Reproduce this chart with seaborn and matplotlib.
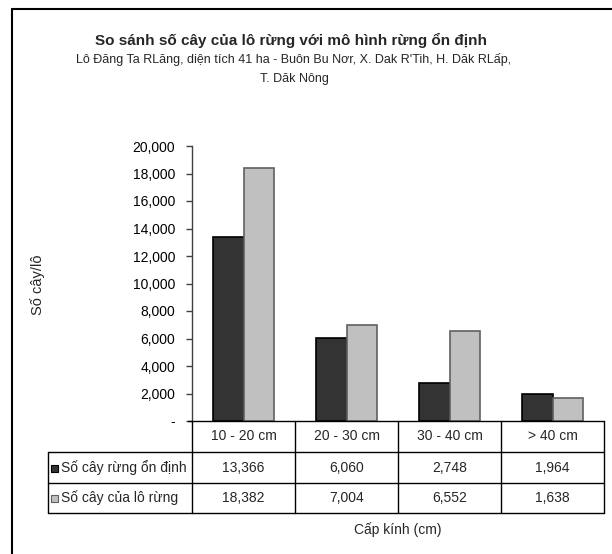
import matplotlib
matplotlib.use("Agg")
import matplotlib.pyplot as plt
import seaborn as sns
import pandas as pd
from matplotlib.lines import Line2D
from matplotlib.patches import Rectangle
from matplotlib.ticker import FuncFormatter

categories = ["10 - 20 cm", "20 - 30 cm", "30 - 40 cm", "> 40 cm"]
series_names = ["Số cây rừng ổn định", "Số cây của lô rừng"]
stable_values = [13366, 6060, 2748, 1964]
plot_values = [18382, 7004, 6552, 1638]
y_ticks = [0, 2000, 4000, 6000, 8000, 10000, 12000, 14000, 16000, 18000, 20000]

title = "So sánh số cây của lô rừng với mô hình rừng ổn định"
subtitle1 = "Lô Đăng Ta RLăng, diện tích 41 ha - Buôn Bu Nơr, X. Dak R'Tih, H. Dăk RLấp,"
subtitle2 = "T. Dăk Nông"
y_label = "Số cây/lô"
x_label = "Cấp kính (cm)"

colors = ["#333333", "#c0c0c0"]
edges = ["#000000", "#606060"]

sns.set_theme(style="white")
plt.rcParams["font.family"] = ["Liberation Sans", "DejaVu Sans"]

W, H = 612, 554
fig = plt.figure(figsize=(W / 100, H / 100), dpi=100)

def fx(x):
    return x / W

def fy(y):
    return 1 - y / H

left, right, top, bottom = 192, 604, 146, 421
ax = fig.add_axes([fx(left), fy(bottom), fx(right - left), (bottom - top) / H])

df = pd.DataFrame({
    "cat": categories * 2,
    "series": [series_names[0]] * 4 + [series_names[1]] * 4,
    "value": stable_values + plot_values,
})
sns.barplot(data=df, x="cat", y="value", hue="series", order=categories,
            hue_order=series_names, palette=colors, width=0.585, gap=0,
            edgecolor="black", linewidth=1.0, ax=ax, legend=False)
for i, cont in enumerate(ax.containers):
    for p in cont:
        p.set_edgecolor(edges[i])
        p.set_linewidth(1.2)

ax.set_xlim(-0.5, len(categories) - 0.5)
ax.set_ylim(0, 20000)
ax.set_yticks(y_ticks)
ax.yaxis.set_major_formatter(FuncFormatter(lambda v, p: "-" if v == 0 else f"{int(v):,}"))
ax.tick_params(axis="y", which="major", left=True, length=4, width=1, color="#404040",
               labelsize=10, pad=8, labelcolor="black")
ax.set_xticks([])
ax.set_xlabel("")
ax.set_ylabel("")
for s in ["top", "right", "bottom"]:
    ax.spines[s].set_visible(False)
ax.spines["left"].set_color("#404040")
ax.spines["left"].set_linewidth(1)
ax.patch.set_alpha(0)

# table
lw = 1.0
col_x = [left + (right - left) * i / len(categories) for i in range(len(categories) + 1)]
row_y = [421, 452, 483, 513]
tab_left = 48

def hline(x0, x1, y, c="black"):
    fig.add_artist(Line2D([fx(x0), fx(x1)], [fy(y), fy(y)], color=c, lw=lw))

def vline(x, y0, y1, c="black"):
    fig.add_artist(Line2D([fx(x), fx(x)], [fy(y0), fy(y1)], color=c, lw=lw))

hline(188, right, row_y[0])
for y in row_y[1:]:
    hline(tab_left, right, y)
vline(tab_left, row_y[1], row_y[3])
for x in col_x:
    vline(x, row_y[0], row_y[3])

for i, cat in enumerate(categories):
    cx = (col_x[i] + col_x[i + 1]) / 2
    fig.text(fx(cx), fy((row_y[0] + row_y[1]) / 2), cat, ha="center", va="center", fontsize=10)
    fig.text(fx(cx), fy((row_y[1] + row_y[2]) / 2), f"{stable_values[i]:,}", ha="center", va="center", fontsize=10)
    fig.text(fx(cx), fy((row_y[2] + row_y[3]) / 2), f"{plot_values[i]:,}", ha="center", va="center", fontsize=10)

for r, name in enumerate(series_names):
    yc = (row_y[r + 1] + row_y[r + 2]) / 2
    fig.add_artist(Rectangle((fx(51), fy(yc + 4)), 7 / W, 7 / H, facecolor=colors[r],
                             edgecolor=edges[r] if r else "black", lw=0.8))
    fig.text(fx(61), fy(yc), name, ha="left", va="center", fontsize=10)

# labels
fig.text(fx(291), fy(40), title, ha="center", va="center", fontsize=11, fontweight="bold")
fig.text(fx(294), fy(60), subtitle1, ha="center", va="center", fontsize=9)
fig.text(fx(294), fy(79), subtitle2, ha="center", va="center", fontsize=9)
fig.text(fx(38), fy(285), y_label, ha="center", va="center", rotation=90, fontsize=10.5)
fig.text(fx(398), fy(530), x_label, ha="center", va="center", fontsize=10)

# outer border (left and top only visible)
fig.add_artist(Line2D([fx(12), fx(12)], [fy(9), 0], color="black", lw=1.5))
fig.add_artist(Line2D([fx(12), 1], [fy(9), fy(9)], color="black", lw=1.5))

fig.savefig("out.png", dpi=100)
